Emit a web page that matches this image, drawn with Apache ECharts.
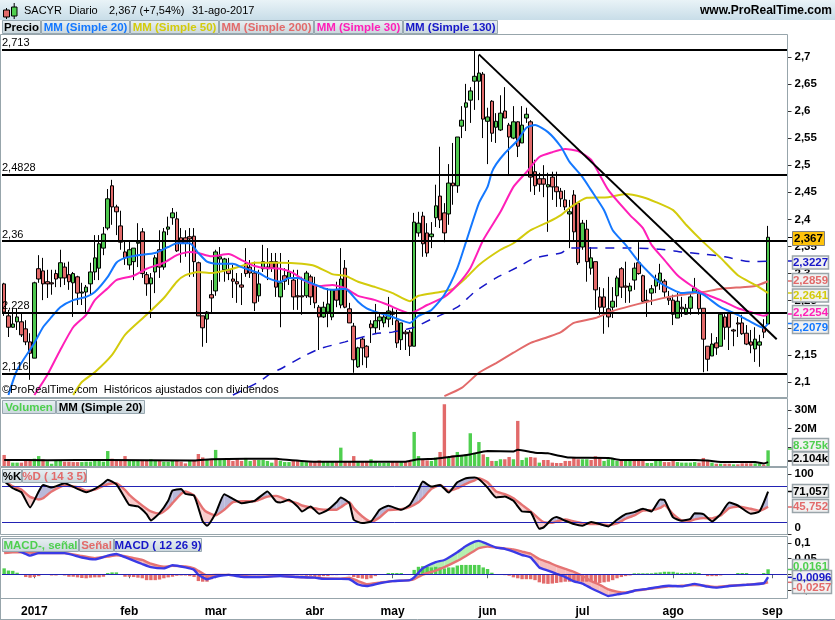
<!DOCTYPE html>
<html><head><meta charset="utf-8">
<style>html,body{margin:0;padding:0;background:#fff}#c{width:835px;height:620px}</style>
<script src="https://cdn.jsdelivr.net/npm/echarts@6/dist/echarts.min.js"></script>
</head><body><div id="c"></div>
<script>
// open, close, low, high per session
const candles=[
[2.281,2.229,2.222,2.283],[2.222,2.201,2.183,2.233],[2.201,2.207,2.200,2.235],[2.211,2.220,2.196,2.236],[2.211,2.187,2.183,2.227],[2.198,2.174,2.168,2.214],[2.174,2.153,2.104,2.190],[2.144,2.283,2.144,2.285],[2.309,2.290,2.283,2.334],[2.305,2.281,2.251,2.329],
[2.285,2.281,2.255,2.307],[2.283,2.281,2.261,2.307],[2.300,2.290,2.275,2.307],[2.292,2.320,2.275,2.344],[2.312,2.292,2.279,2.320],[2.298,2.285,2.270,2.322],[2.283,2.300,2.220,2.303],[2.294,2.264,2.242,2.296],[2.264,2.266,2.242,2.283],[2.266,2.275,2.227,2.279],
[2.281,2.303,2.261,2.320],[2.303,2.329,2.288,2.371],[2.310,2.355,2.288,2.371],[2.347,2.373,2.334,2.386],[2.384,2.438,2.380,2.456],[2.462,2.423,2.390,2.473],[2.423,2.414,2.371,2.427],[2.388,2.358,2.344,2.416],[2.340,2.329,2.316,2.360],[2.316,2.344,2.307,2.360],
[2.322,2.347,2.288,2.347],[2.356,2.358,2.312,2.393],[2.377,2.300,2.292,2.384],[2.298,2.281,2.259,2.303],[2.281,2.292,2.218,2.301],[2.303,2.329,2.264,2.334],[2.344,2.312,2.292,2.380],[2.312,2.377,2.307,2.384],[2.382,2.386,2.371,2.405],[2.403,2.412,2.390,2.421],
[2.401,2.342,2.340,2.414],[2.366,2.356,2.320,2.384],[2.366,2.356,2.331,2.380],[2.368,2.364,2.294,2.384],[2.369,2.322,2.294,2.384],[2.320,2.222,2.222,2.322],[2.222,2.200,2.165,2.222],[2.216,2.229,2.172,2.231],[2.261,2.255,2.229,2.288],[2.268,2.340,2.259,2.344],
[2.327,2.331,2.285,2.349],[2.307,2.327,2.285,2.329],[2.307,2.300,2.288,2.329],[2.290,2.286,2.255,2.316],[2.285,2.281,2.246,2.301],[2.279,2.275,2.242,2.301],[2.318,2.300,2.294,2.347],[2.312,2.301,2.292,2.325],[2.301,2.246,2.231,2.322],[2.259,2.281,2.248,2.307],
[2.309,2.322,2.303,2.353],[2.312,2.309,2.288,2.347],[2.322,2.310,2.303,2.338],[2.322,2.275,2.257,2.338],[2.257,2.283,2.201,2.338],[2.296,2.286,2.270,2.310],[2.292,2.303,2.279,2.325],[2.288,2.257,2.233,2.307],[2.259,2.257,2.233,2.307],[2.259,2.257,2.224,2.294],
[2.259,2.301,2.255,2.305],[2.294,2.257,2.242,2.298],[2.279,2.246,2.236,2.294],[2.238,2.220,2.159,2.242],[2.220,2.238,2.218,2.248],[2.229,2.244,2.201,2.273],[2.220,2.270,2.214,2.270],[2.270,2.251,2.238,2.285],[2.242,2.290,2.236,2.347],[2.310,2.238,2.236,2.325],
[2.235,2.209,2.209,2.246],[2.203,2.141,2.117,2.209],[2.128,2.163,2.126,2.165],[2.179,2.163,2.131,2.183],[2.166,2.146,2.126,2.168],[2.207,2.200,2.172,2.214],[2.200,2.213,2.190,2.244],[2.213,2.220,2.196,2.227],[2.209,2.220,2.201,2.227],[2.216,2.231,2.201,2.257],
[2.229,2.225,2.205,2.236],[2.213,2.172,2.163,2.233],[2.178,2.209,2.159,2.209],[2.192,2.189,2.159,2.196],[2.192,2.166,2.148,2.196],[2.166,2.395,2.166,2.412],[2.375,2.393,2.368,2.414],[2.406,2.355,2.331,2.414],[2.375,2.338,2.331,2.393],[2.368,2.373,2.347,2.395],
[2.403,2.425,2.386,2.464],[2.443,2.399,2.384,2.534],[2.412,2.375,2.358,2.430],[2.410,2.467,2.390,2.502],[2.467,2.462,2.427,2.541],[2.462,2.552,2.449,2.552],[2.572,2.583,2.550,2.609],[2.607,2.615,2.563,2.650],[2.620,2.637,2.578,2.644],[2.655,2.664,2.602,2.711],
[2.655,2.670,2.620,2.703],[2.668,2.585,2.550,2.672],[2.581,2.589,2.502,2.606],[2.618,2.559,2.543,2.620],[2.570,2.581,2.541,2.596],[2.565,2.596,2.563,2.629],[2.600,2.587,2.587,2.644],[2.574,2.552,2.482,2.578],[2.550,2.580,2.548,2.609],[2.580,2.535,2.515,2.581],
[2.541,2.574,2.541,2.609],[2.587,2.594,2.578,2.606],[2.580,2.478,2.451,2.583],[2.488,2.462,2.445,2.510],[2.475,2.465,2.451,2.486],[2.475,2.465,2.441,2.500],[2.460,2.464,2.377,2.486],[2.478,2.460,2.436,2.488],[2.460,2.451,2.423,2.488],[2.452,2.438,2.423,2.458],
[2.436,2.423,2.417,2.454],[2.410,2.414,2.347,2.436],[2.445,2.377,2.362,2.454],[2.430,2.320,2.316,2.430],[2.349,2.393,2.344,2.399],[2.382,2.322,2.285,2.399],[2.310,2.329,2.298,2.349],[2.322,2.270,2.233,2.322],[2.257,2.238,2.224,2.275],[2.257,2.238,2.189,2.273],
[2.235,2.220,2.201,2.294],[2.238,2.249,2.218,2.275],[2.259,2.292,2.238,2.296],[2.309,2.275,2.255,2.312],[2.277,2.275,2.246,2.322],[2.268,2.277,2.246,2.283],[2.288,2.310,2.270,2.320],[2.320,2.300,2.298,2.358],[2.296,2.249,2.246,2.298],[2.251,2.249,2.220,2.270],
[2.264,2.272,2.242,2.279],[2.277,2.290,2.264,2.298],[2.286,2.301,2.270,2.318],[2.286,2.266,2.257,2.290],[2.255,2.251,2.242,2.268],[2.251,2.225,2.205,2.261],[2.218,2.249,2.218,2.264],[2.238,2.235,2.220,2.257],[2.225,2.236,2.224,2.244],[2.236,2.257,2.224,2.262],
[2.266,2.273,2.264,2.292],[2.266,2.235,2.224,2.270],[2.236,2.179,2.118,2.236],[2.166,2.142,2.120,2.166],[2.148,2.170,2.148,2.190],[2.172,2.163,2.150,2.183],[2.166,2.225,2.166,2.225],[2.220,2.201,2.178,2.225],[2.227,2.201,2.159,2.227],[2.196,2.194,2.166,2.198],
[2.209,2.207,2.183,2.220],[2.209,2.189,2.187,2.224],[2.190,2.170,2.168,2.205],[2.174,2.168,2.153,2.196],[2.161,2.179,2.137,2.201],[2.168,2.174,2.128,2.187],[2.200,2.192,2.181,2.216],[2.207,2.367,2.207,2.388]];

// moving averages as [session, value]
const ma20=[[1.2,2.076],[3.3,2.122],[6.8,2.172],[9.1,2.201],[10.6,2.220],[12.9,2.238],[16,2.251],[19.1,2.257],[21.4,2.266],[23.7,2.294],[26,2.320],[28.4,2.329],[31.4,2.334],[35.3,2.338],[37.6,2.349],[39.9,2.356],[43.4,2.356],[45.3,2.338],[47.3,2.322],[49.2,2.318],[53,2.318],[55.4,2.312],[58.5,2.301],[60.8,2.292],[63.9,2.285],[66.2,2.292],[67.7,2.292],[70.8,2.283],[73.9,2.273],[76.2,2.270],[78.5,2.272],[80,2.266],[82.4,2.248],[84.3,2.236],[87,2.227],[90,2.220],[94,2.209],[96.3,2.222],[99,2.233],[101.7,2.261],[104.8,2.310],[107.1,2.358],[110.1,2.430],[111.7,2.460],[113.2,2.487],[114,2.502],[116.3,2.522],[118.6,2.546],[120.9,2.569],[123.3,2.574],[126.3,2.561],[128.7,2.534],[131,2.506],[134,2.478],[136.4,2.454],[139,2.417],[141.2,2.380],[143.5,2.353],[146.6,2.322],[149.5,2.297],[152.2,2.283],[154.5,2.270],[156.8,2.264],[159.9,2.266],[162.2,2.261],[166.1,2.238],[170,2.224],[173,2.211],[175.7,2.200],[177,2.2079]];
const ma30=[[7.1,2.076],[9.8,2.113],[12.9,2.159],[16,2.201],[19.1,2.224],[21.4,2.251],[23.7,2.273],[26,2.288],[29.9,2.296],[33,2.309],[36.8,2.320],[39.9,2.334],[43,2.340],[45.3,2.338],[47.7,2.332],[51.5,2.336],[54.6,2.325],[57.7,2.314],[60.8,2.310],[63.9,2.309],[66.9,2.301],[70,2.285],[73.1,2.277],[76.2,2.279],[79.3,2.273],[82.4,2.259],[85.5,2.251],[89.3,2.242],[94,2.227],[97.8,2.242],[101.7,2.257],[104.8,2.279],[107.8,2.310],[110.9,2.362],[114.8,2.414],[117.9,2.460],[121,2.487],[124.1,2.515],[127.1,2.524],[130.2,2.530],[133.3,2.526],[135.6,2.510],[137.5,2.482],[140.2,2.454],[145,2.408],[147.6,2.384],[149.9,2.353],[153,2.325],[156,2.297],[159.1,2.279],[162.2,2.264],[166.1,2.251],[170,2.236],[173,2.229],[175.7,2.222],[177,2.2254]];
const ma50=[[15.6,2.076],[18.3,2.100],[21.4,2.118],[24.5,2.150],[28.4,2.187],[33,2.224],[36.8,2.255],[39.9,2.285],[42.3,2.297],[44.6,2.303],[48.4,2.301],[51.5,2.307],[54.6,2.314],[57.7,2.320],[63.9,2.320],[68.5,2.318],[71.6,2.314],[76.2,2.299],[79.3,2.296],[82.4,2.285],[86.2,2.275],[90,2.264],[94,2.249],[96.3,2.259],[100.9,2.266],[104,2.272],[107,2.292],[110.2,2.316],[114.8,2.344],[117.9,2.356],[121.7,2.380],[125.6,2.395],[128.7,2.408],[131.4,2.421],[135.4,2.440],[139.5,2.441],[144,2.447],[147.6,2.441],[150.7,2.432],[154.5,2.417],[158.4,2.390],[162.2,2.358],[166.1,2.329],[169.9,2.297],[173.8,2.279],[177,2.2641]];
const ma200=[[102,2.074],[105.5,2.089],[110.2,2.117],[114,2.135],[117.9,2.154],[121.7,2.172],[125.6,2.183],[128.7,2.192],[132.1,2.209],[136.8,2.218],[140.6,2.231],[144.5,2.240],[149.1,2.248],[153.8,2.257],[158.4,2.262],[162.2,2.266],[166.1,2.272],[170.7,2.275],[173.8,2.277],[177,2.2859]];
const ma130=[[53.1,2.076],[59.2,2.100],[62.3,2.117],[63.9,2.124],[68.5,2.146],[73.1,2.161],[79.3,2.174],[86.2,2.189],[90,2.192],[94.7,2.201],[99.3,2.216],[104.7,2.238],[109.4,2.266],[114,2.292],[118.6,2.312],[123.3,2.329],[128.7,2.338],[131.4,2.347],[139,2.347],[146,2.347],[152.2,2.345],[156.8,2.340],[162.2,2.336],[166.9,2.331],[173,2.322],[177,2.3227]];
const trendLine=[[110,2.7045],[178.8,2.179]];
const levels=[2.713,2.4828,2.36,2.228,2.116];

const priceTicks=[2.1,2.15,2.2,2.25,2.3,2.35,2.4,2.45,2.5,2.55,2.6,2.65,2.7,2.75];
const volumeTicks=[10,20,30];
const stochTicks=[0,100];
const macdTicks=[-0.05,0,0.05,0.1];
const monthLabels={7:'2017',29:'feb',49:'mar',72:'abr',90:'may',112:'jun',134:'jul',155:'ago',178:'sep'};

// volume, millions
const volume=[5.9,3.0,1.8,1.8,1.8,3.6,3.2,3.9,5.3,3.6,
2.5,1.2,2.7,2.7,2.3,2.3,2.1,2.1,2.1,2.3,
2.3,3.6,3.2,2.3,8.0,3.9,2.7,3.2,5.3,2.7,
2.7,2.7,2.7,2.7,3.6,2.7,2.7,2.3,2.3,2.7,
2.7,2.3,1.4,3.0,3.0,6.4,4.6,3.6,3.2,8.6,
3.6,3.2,3.2,2.7,3.6,2.7,4.3,2.7,3.2,3.2,
3.2,2.7,1.8,3.6,2.7,2.1,2.1,2.7,2.7,2.1,
2.1,2.1,2.1,3.0,2.1,2.1,2.1,2.1,9.8,2.7,
2.7,5.3,2.1,2.1,2.7,3.6,2.7,1.6,1.6,1.8,
2.5,2.1,2.1,2.5,2.5,18.2,5.3,3.6,3.0,2.7,
4.5,7.5,33,4.5,5.7,7.5,5.7,6.2,17.5,7.1,
12.8,6.2,4.8,2.7,2.7,3.6,3.6,4.8,3.6,24.1,
3.2,4.5,4.8,4.5,1.8,3.2,3.2,1.8,1.6,1.6,
2.7,2.7,4.5,3.6,3.6,3.6,3.2,5.2,4.5,2.7,
3.6,4.3,2.7,2.7,3.6,3.2,2.7,2.7,2.7,1.6,
1.6,2.7,2.7,2.1,2.1,3.6,2.1,1.8,1.8,1.8,
2.1,1.8,4.3,3.0,1.8,1.2,1.2,1.2,1.2,0.9,
0.9,1.4,1.4,1.4,1.4,1.4,0.7,8.375];
const volumeUp=[0,0,1,1,0,0,0,1,1,0,
1,1,1,1,0,0,0,0,1,1,
1,1,1,1,1,0,0,0,0,1,
1,1,0,0,1,1,0,1,1,1,
0,0,0,1,0,0,0,1,0,1,
1,1,0,0,0,0,1,1,0,1,
1,1,1,0,1,1,1,0,0,1,
1,0,0,0,1,1,1,0,1,0,
0,0,1,0,0,1,1,1,1,1,
0,0,1,0,0,1,1,0,0,1,
1,0,0,1,0,1,1,1,1,1,
1,0,1,0,1,1,0,0,1,0,
1,1,0,0,1,0,0,0,0,0,
0,0,0,0,1,1,0,0,0,1,
1,1,1,0,1,1,0,0,0,1,
1,1,1,0,0,0,1,1,1,1,
1,0,0,0,1,0,1,0,0,1,
0,0,0,0,1,1,0,1];
const volumeMA=[[0,3.2],[10,3.1],[24,3.2],[44,2.9],[48,3.6],[56,3.9],[63,3.9],[64,3.6],[71.6,2.3],[93,2.3],[96,3.6],[100,3.9],[103,4.8],[108,6.2],[111.7,8],[117.9,7.8],[119.4,8.7],[123.3,7.1],[126.4,6.8],[128,5.7],[131,4.5],[140,4.3],[143,3.2],[160,3.2],[163,2.9],[167,2.1],[174,2.1],[176,1.4],[177,2.104]];

// stochastic, shared sessions
const stochIdx=[0,2,4,6,8,9,11,14,17,19,21,23,24,26,28,29,31,33,34,36,38,39,41,42,44,46,47,49,51,53,55,58,61,63,64,66,68,69,71,73,75,77,78,80,81,83,85,87,89,92,94,96,97,99,101,103,105,107,109,110,112,114,116,118,120,122,124,125,127,128,130,132,134,136,138,140,142,144,146,148,150,152,153,155,157,159,160,162,164,166,168,170,173,175,177];
const stochK=[88.8,76.6,69.9,44.4,71.1,82.2,77.7,84.9,75.5,69.9,75.5,84.9,91,83.3,59.9,48.8,46.1,33.3,22.7,34.9,55.5,72.7,75.5,67.2,64.4,21.1,13.8,34.9,66.6,58.8,51.6,55.5,71.1,54.4,52.7,57.2,46.1,37.7,46.1,33.8,40.5,53.3,61.1,51.6,23.8,18.3,21.1,40.5,47.2,40.5,48.8,73.8,87.7,79.4,82.2,69.4,86.6,93.3,94.4,91.6,77.7,61.1,62.7,55.5,37.7,36.6,8.8,11.1,25.5,28.3,22.2,16.6,13.8,19.9,16.6,12.7,23.8,33.3,36.6,42.2,37.7,57.7,56.6,27.7,22.2,25.5,34.9,33.3,21.1,33.3,52.7,47.7,33.8,37.7,71.057];
const stochD=[88.8,79.9,74.4,62.2,57.7,59.9,71.1,81.1,78.3,72.7,74.4,80.5,83.3,84.9,73.8,65.5,53.3,42.2,37.7,33.8,43.3,51.6,67.2,71.1,64.4,43.3,36.6,31.1,40.5,53.3,54.9,54.9,62.7,63.8,61.6,55.5,51.1,47.7,44.4,41.6,40.5,40.5,44.9,53.3,43.3,29.4,20.5,27.7,39.9,41.6,45.5,53.3,59.9,75.5,82.2,72.2,76.6,83.8,89.9,93.3,86.6,71.1,66.6,59.9,48.8,37.7,24.9,19.9,18.8,21.1,24.4,21.1,18.3,16.6,16.6,14.9,17.7,25.5,31.1,39.4,39.9,43.8,48.3,33.3,22.7,22.2,24.4,26.6,26.1,31.1,43.3,46.1,42.2,38.8,45.752];
const stochBands=[20,80];

// MACD, shared sessions
const macdIdx=[0,2,4,6,8,14,18,21,24,26,28,30,32,34,37,39,42,44,45,47,49,52,55,59,64,68,72,74,78,80,82,84,87,90,94,95,97,100,102,105,107,109,110,112,114,116,118,120,122,124,126,128,130,132,134,136,138,140,142,144,146,149,152,154,157,160,163,165,168,172,176,177];
const macdLine=[.087,.080,.071,.060,.068,.068,.054,.048,.060,.065,.055,.044,.033,.023,.019,.029,.022,.014,-.002,-.016,-.008,-.002,-.008,-.009,-.006,-.009,-.011,-.015,-.015,-.016,-.033,-.038,-.029,-.022,-.019,-.010,.019,.039,.046,.071,.091,.105,.1075,.097,.086,.082,.073,.062,.054,.022,.012,.001,-.009,-.023,-.030,-.045,-.058,-.070,-.065,-.061,-.053,-.047,-.040,-.037,-.039,-.031,-.040,-.043,-.038,-.034,-.029,-.0096];
const macdSignal=[.068,.071,.071,.070,.068,.068,.059,.052,.057,.061,.058,.052,.046,.034,.024,.027,.025,.019,.011,-.004,-.002,-.002,-.005,-.008,-.005,-.009,-.010,-.013,-.014,-.011,-.022,-.032,-.027,-.022,-.019,-.016,-.001,.012,.023,.043,.059,.076,.084,.089,.086,.083,.080,.073,.066,.049,.039,.027,.017,.008,-.005,-.022,-.034,-.049,-.056,-.059,-.053,-.048,-.043,-.039,-.037,-.035,-.038,-.041,-.037,-.034,-.029,-.0257];
// histogram in thousandths
const macdHist=[19,12,11,5,0,-9,-11,-9,-6,-2,
0,-4,-4,0,-4,-8,-8,-10,-12,-13,
-11,-10,-10,-8,4,6,6,0,-8,-8,
-9,-11,-13,-19,-19,-19,-17,-13,-10,-8,
-5,-4,-4,-6,-9,-22,-24,-24,-16,-10,
-5,-3,-3,-2,-5,-6,-4,-2,-3,-3,
-2,-1,-1,-2,-3,-2,-2,-3,-3,-4,
-5,-5,-6,-8,-6,-6,-3,-3,-2,0,
-3,-9,-12,-14,-16,-13,-6,-2,0,4,
4,4,4,0,0,14,24,26,24,22,
24,22,19,22,22,28,30,30,30,30,
30,22,17,5,0,0,-3,-5,-10,-13,
-16,-16,-16,-19,-26,-30,-31,-30,-28,-26,
-24,-24,-24,-22,-24,-24,-24,-26,-28,-26,
-24,-19,-13,-9,-6,-4,3,3,3,3,
3,5,6,8,8,8,5,4,4,5,
6,4,0,-6,-6,-6,-4,0,0,0,
4,4,4,0,0,0,4,16];

// last-value tags: text, colour, pane centre y, fill
const C={green:'#4fcf4f',red:'#e26a6a',blue:'#1478ff',yellow:'#d3cb0c',magenta:'#ff1fb8',navy:'#1616c8',gold:'#ffc30b'};
const tagsText=['2,3227','2,2859','2,2641','2,2254','2,2079','8.375k','2.104k','71,057','45,752','0,0161','-0,0096','-0,0257'];
const tagsColor=[C.navy,C.red,C.yellow,C.magenta,C.blue,C.green,'#000','#000',C.red,C.green,C.navy,C.red];
const tagsY=[262.5,280,295.5,312,327,445,458.5,491,506,566,577,587];
const tagsTickY=[261,281,293,314,323.5,449,461,491.5,507,569.5,577.3,582.3];
const legendMain=[['Precio','#000',2,38],['MM (Simple 20)',C.blue,41,88],['MM (Simple 50)',C.yellow,130,88],['MM (Simple 200)',C.red,219,94],['MM (Simple 30)',C.magenta,314,88],['MM (Simple 130)',C.navy,403,94]];
const legendVol=[['Volumen',C.green,2,53],['MM (Simple 20)','#000',56,88]];
const legendStoch=[['%K','#000',2,19],['%D ( 14 3 5)',C.red,22,64]];
const legendMacd=[['MACD-, señal',C.green,2,76],['Señal',C.red,79,34],['MACD ( 12 26 9)',C.navy,114,87]];

const N=182, L=2, W=785.5;
const categories=Array.from({length:N},(_,i)=>monthLabels[i]||'');
const F='"Liberation Sans",Arial,sans-serif';
const panes=[{top:35,height:362},{top:399,height:67},{top:468,height:66},{top:537,height:61}];
const comma=v=>String(v).replace('.',',');

function line(name,data,color,w,gi,extra){
  return Object.assign({name,type:'line',data,xAxisIndex:gi,yAxisIndex:gi,symbol:'none',smooth:0.2,
    lineStyle:{color,width:w},silent:true,animation:false,z:4},extra||{});
}
function between(idx,a,b,upCol,dnCol,gi){
  const rows=idx.map((x,i)=>[x,a[i],b[i],i<idx.length-1?idx[i+1]:x,i<idx.length-1?a[i+1]:a[i],i<idx.length-1?b[i+1]:b[i]]);
  return {type:'custom',xAxisIndex:gi,yAxisIndex:gi,data:rows,silent:true,animation:false,z:2,
    encode:{x:0,y:1},clip:true,
    renderItem(p,api){
      const x0=api.value(0),a0=api.value(1),b0=api.value(2),x1=api.value(3),a1=api.value(4),b1=api.value(5);
      const P=(x,y)=>api.coord([x,y]);
      const kids=[];
      const add=(pts,col)=>kids.push({type:'polygon',shape:{points:pts},style:{fill:col,stroke:null}});
      const d0=a0-b0,d1=a1-b1;
      if(d0*d1<0){
        const t=d0/(d0-d1),xc=x0+t*(x1-x0),yc=a0+t*(a1-a0);
        add([P(x0,a0),P(xc,yc),P(x0,b0)],d0>0?upCol:dnCol);
        add([P(xc,yc),P(x1,a1),P(x1,b1)],d1>0?upCol:dnCol);
      }else{
        add([P(x0,a0),P(x1,a1),P(x1,b1),P(x0,b0)],(d0+d1)>=0?upCol:dnCol);
      }
      return {type:'group',children:kids};
    }};
}
const xAxes=panes.map((p,i)=>({type:'category',gridIndex:i,data:categories,boundaryGap:true,show:i===3,
  axisLine:{show:false},
  axisTick:{show:true,alignWithLabel:true,length:4,interval:(k,v)=>v!=='',lineStyle:{color:'#5c6a70'}},
  axisLabel:{interval:(k,v)=>v!=='',margin:8,hideOverlap:false,color:'#000',fontFamily:F,fontWeight:'bold',fontSize:12},
  splitLine:{show:false}}));
function yAxis(i,min,max,ticks,fmt,extraLabel){
  return {type:'value',gridIndex:i,position:'right',min,max,scale:true,splitLine:{show:false},
    axisLine:{show:false},
    axisTick:{show:true,length:4,customValues:ticks,lineStyle:{color:'#333'}},
    axisLabel:Object.assign({customValues:ticks,formatter:fmt,margin:7,color:'#000',fontFamily:F,fontWeight:'bold',fontSize:11.5,showMinLabel:true,showMaxLabel:true},extraLabel||{})};
}
const yAxes=[
  yAxis(0,2.0723,2.7402,priceTicks,comma),
  yAxis(1,0,35.8,volumeTicks,v=>v+'M'),
  yAxis(2,0,110.5,stochTicks,v=>String(v),{verticalAlignMinLabel:'bottom'}),
  yAxis(3,-0.0765,0.12,macdTicks,comma)
];

const series=[
 {type:'candlestick',name:'Precio',xAxisIndex:0,yAxisIndex:0,data:candles,barWidth:4,animation:false,silent:true,z:3,
  itemStyle:{color:'#4fc84f',color0:'#e26a6a',borderColor:'#000',borderColor0:'#000',borderWidth:1}},
 line('MM130',ma130,C.navy,1.5,0,{lineStyle:{color:C.navy,width:1.5,type:[9,8]}}),
 line('MM200',ma200,C.red,2,0),
 line('MM50',ma50,C.yellow,2,0),
 line('MM30',ma30,C.magenta,2,0),
 line('MM20',ma20,C.blue,2,0),
 line('Tendencia',trendLine,'#000',2,0,{smooth:false,z:6,
   markLine:{silent:true,symbol:'none',animation:false,z:6,precision:4,lineStyle:{color:'#000',width:2,type:'solid'},
     label:{show:true,position:'insideStartTop',distance:[0,1],color:'#000',fontFamily:F,fontSize:11,formatter:p=>comma(p.value)},
     data:levels.map(v=>({yAxis:v}))}}),

 {type:'bar',xAxisIndex:1,yAxisIndex:1,barWidth:3.4,animation:false,silent:true,z:2,
  data:volume.map((v,i)=>({value:v,itemStyle:{color:volumeUp[i]?C.green:C.red}}))},
 line('VolMA',volumeMA,'#000',2,1),

 between(stochIdx,stochK,stochD,'#b9b9da','#f8cccc',2),
 {type:'line',xAxisIndex:2,yAxisIndex:2,data:[],silent:true,
  markLine:{silent:true,symbol:'none',animation:false,lineStyle:{color:'#2222b4',width:1,type:'solid'},label:{show:false},data:stochBands.map(v=>({yAxis:v}))}},
 line('%D',stochIdx.map((x,i)=>[x,stochD[i]]),'#e57373',2.4,2,{smooth:0.15}),
 line('%K',stochIdx.map((x,i)=>[x,stochK[i]]),'#000',2,2,{smooth:0.15,z:5}),

 between(macdIdx,macdLine,macdSignal,'#b5efaf','#f6bcbc',3),
 {type:'bar',xAxisIndex:3,yAxisIndex:3,barWidth:3.4,animation:false,silent:true,z:2,
  data:macdHist.map(v=>({value:v/1000,itemStyle:{color:v>=0?C.green:C.red}})),
  markLine:{silent:true,symbol:'none',animation:false,z:6,lineStyle:{color:'#2222b4',width:1,type:'solid'},label:{show:false},data:[{yAxis:0}]}},
 line('Señal',macdIdx.map((x,i)=>[x,macdSignal[i]]),'#e57373',2.4,3,{smooth:0.15}),
 line('MACD',macdIdx.map((x,i)=>[x,macdLine[i]]),'#3a3ae6',2.4,3,{smooth:0.15,z:5}),
];

// decorations
const g=[];
const frame='#97a5ab';
g.push({type:'rect',z:0,silent:true,shape:{x:0,y:0,width:835,height:20},
  style:{fill:new echarts.graphic.LinearGradient(0,0,0,1,[{offset:0,color:'#e9f3f7'},{offset:1,color:'#c8dde8'}])}});
panes.forEach(p=>{
  g.push({type:'rect',z:50,silent:true,shape:{x:0.5,y:p.top-0.5,width:787,height:p.height+1},style:{fill:'none',stroke:frame,lineWidth:1}});
});
g.push({type:'line',z:50,silent:true,shape:{x1:0,y1:619.5,x2:835,y2:619.5},style:{stroke:frame,lineWidth:1}});
g.push({type:'line',z:50,silent:true,shape:{x1:0.5,y1:598,x2:0.5,y2:620},style:{stroke:frame,lineWidth:1}});
// header icon
[[3.5,10,6,7,'#e26a6a',6.5,8,19],[11.5,7,5.5,9,C.green,14.2,3,19]].forEach(r=>{
  g.push({type:'line',z:51,silent:true,shape:{x1:r[5],y1:r[6],x2:r[5],y2:r[7]},style:{stroke:'#000',lineWidth:1}});
  g.push({type:'rect',z:52,silent:true,shape:{x:r[0],y:r[1],width:r[2],height:r[3]},style:{fill:r[4],stroke:'#000',lineWidth:1}});
});
const hdr=[['SACYR',24],['Diario',69],['2,367 (+7,54%)',109],['31-ago-2017',192]];
hdr.forEach(h=>g.push({type:'text',z:52,silent:true,style:{text:h[0],x:h[1],y:11,fill:'#000',font:'11px '+F,textVerticalAlign:'middle'}}));
g.push({type:'text',z:52,silent:true,style:{text:'www.ProRealTime.com',x:832,y:11,fill:'#000',font:'bold 12px '+F,textAlign:'right',textVerticalAlign:'middle'}});
function buttons(list,y,h){
  list.forEach(b=>{
    g.push({type:'rect',z:60,silent:true,shape:{x:b[2]+.5,y:y+.5,width:b[3],height:h},
      style:{fill:new echarts.graphic.LinearGradient(0,0,0,1,[{offset:0,color:'#e9f0f3'},{offset:1,color:'#c9d6dc'}]),stroke:'#98a8b0',lineWidth:1}});
    g.push({type:'text',z:61,silent:true,style:{text:b[0],x:b[2]+b[3]/2+.5,y:y+h/2+1,fill:b[1],font:'bold 11.5px '+F,textAlign:'center',textVerticalAlign:'middle'}});
  });
}
buttons(legendMain,20,13); buttons(legendVol,400,13); buttons(legendStoch,469,13); buttons(legendMacd,538,13);
g.push({type:'text',z:61,silent:true,style:{text:'©ProRealTime.com  Históricos ajustados con dividendos',x:2,y:390,fill:'#000',font:'11px '+F,textVerticalAlign:'middle'}});
// current price tag
g.push({type:'rect',z:70,silent:true,shape:{x:792.5,y:231.5,width:32,height:14},style:{fill:C.gold,stroke:'#808080',lineWidth:1}});
g.push({type:'text',z:71,silent:true,style:{text:'2,367',x:808.5,y:239,fill:'#000',font:'bold 11.5px '+F,textAlign:'center',textVerticalAlign:'middle'}});
g.push({type:'line',z:69,silent:true,shape:{x1:788,y1:237.5,x2:793,y2:237.5},style:{stroke:'#000',lineWidth:1}});
tagsText.forEach((t,i)=>{
  const w=t.length>6?39:36;
  g.push({type:'line',z:69,silent:true,shape:{x1:788,y1:tagsTickY[i],x2:793,y2:tagsTickY[i]},style:{stroke:tagsColor[i],lineWidth:1.5}});
  g.push({type:'rect',z:70,silent:true,shape:{x:792.5,y:tagsY[i]-6.5,width:w,height:13},style:{fill:'#f1f1f1',stroke:'#9aa5aa',lineWidth:1.5}});
  g.push({type:'text',z:71,silent:true,style:{text:t,x:792.5+w/2,y:tagsY[i]+.5,fill:tagsColor[i],font:'bold 11.5px '+F,textAlign:'center',textVerticalAlign:'middle'}});
});

const chart=echarts.init(document.getElementById('c'),null,{renderer:'canvas',width:835,height:620});
chart.setOption({backgroundColor:'#fff',animation:false,
  grid:panes.map(p=>({left:L,width:W,top:p.top,height:p.height,show:false})),
  xAxis:xAxes,yAxis:yAxes,series,graphic:{elements:g}});
</script></body></html>
